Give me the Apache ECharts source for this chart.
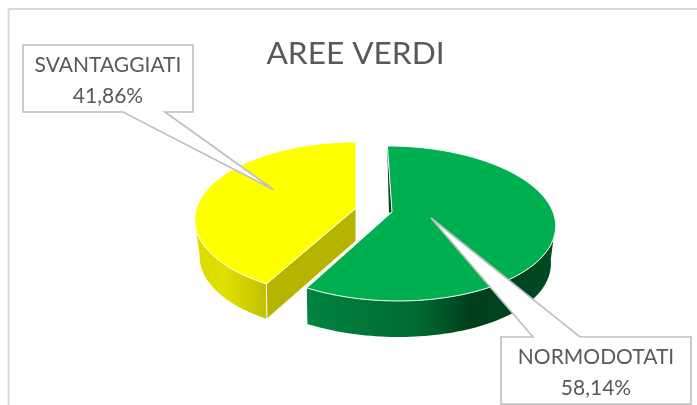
<!DOCTYPE html>
<html><head><meta charset="utf-8">
<style>html,body{margin:0;padding:0;background:#fff}#c{width:697px;height:405px}</style>
<script src="https://cdn.jsdelivr.net/npm/echarts@6/dist/echarts.min.js"></script>
</head><body><div id="c"></div>
<script>
const titleText = 'AREE VERDI';
const categories = ['NORMODOTATI', 'SVANTAGGIATI'];
const shareValues = [58.14, 41.86];
const sliceColors = ['#00b050', '#ffff00'];

const FONT = 'Lato, "Open Sans", sans-serif';
const TEXT = '#595959', EDGE = '#bfbfbf';
// layout of each exploded slice: apex, radii, perspective, wall depth
const sliceLayout = [
  {cx: 392, cy: 212, a: 161, b: 75.8, k: 0.148, shear: 0.07, depth: 36, innerDepth: 36,
   wall: [[0,'#00843f'],[0.45,'#006a31'],[0.66,'#003f1d'],[1,'#004a22']], inner: '#00431f', sliver: true},
  {cx: 356, cy: 208, a: 159.5, b: 75.8, k: 0.148, shear: 0, depth: 35, innerDepth: 33,
   wall: [[0,'#dcdc00'],[0.45,'#dfdf00'],[1,'#c0c000']], inner: '#b5b500', sliver: false}
];
const calloutLayout = [
  {box: [501, 337, 190, 67], base: [533, 580], tip: [431, 218]},
  {box: [23, 45, 170, 67], base: [123, 165], tip: [274, 190]}
];

const rad = d => d * Math.PI / 180;
function rim(L, deg) {
  const u = Math.sin(rad(deg)), v = -Math.cos(rad(deg)), w = 1 - L.k * v;
  const y = L.b * v / w;
  return [L.cx + L.a * u / w + L.shear * y, L.cy + y];
}
function base(L, deg) {
  const u = Math.sin(rad(deg)), p = rim(L, deg);
  return [p[0] - Math.sign(u) * 5 * Math.pow(Math.abs(u), 3), p[1] + L.depth];
}
function arc(fn, L, from, to) {
  const n = Math.max(2, Math.ceil(Math.abs(to - from) / 1.5)), out = [];
  for (let i = 0; i <= n; i++) out.push(fn(L, from + (to - from) * i / n));
  return out;
}
function angles(i) {
  const total = shareValues.reduce((s, x) => s + x, 0);
  let acc = 0;
  for (let j = 0; j < i; j++) acc += shareValues[j];
  return [acc / total * 360, (acc + shareValues[i]) / total * 360];
}
const EXT = 98.5; // silhouette angle of the ellipse
function renderSlice(params, api) {
  const i = params.dataIndex, L = sliceLayout[i], ang = angles(i);
  const start = ang[0], end = ang[1], kids = [];
  const apex = [L.cx, L.cy], apexB = [L.cx, L.cy + L.innerDepth];
  const from = Math.max(start, i === 0 ? EXT : start);
  const to = Math.min(end, i === 0 ? end : 360 - EXT);
  const r0 = arc(rim, L, from, to), b0 = arc(base, L, from, to).reverse();
  kids.push({type: 'polygon', shape: {points: r0.concat(b0)},
    style: {fill: new echarts.graphic.LinearGradient(0, 0, 1, 0,
      L.wall.map(s => ({offset: s[0], color: s[1]}))), stroke: null}});
  if (!L.sliver) {
    const f = rim(L, start), fb = base(L, start);
    kids.push({type: 'polygon', shape: {points: [apex, f, fb, apexB]},
      style: {fill: L.inner, stroke: '#ffffff', lineWidth: 1}});
  } else {
    const t = rim(L, start);
    kids.push({type: 'polygon', shape: {points: [[t[0], t[1] + 8], [L.cx - 3, L.cy + 1], apex, t]},
      style: {fill: L.inner, stroke: null}});
  }
  kids.push({type: 'polygon', shape: {points: [apex].concat(arc(rim, L, start, end))},
    style: {fill: api.visual('color'), stroke: '#ffffff', lineWidth: 1}});
  return {type: 'group', children: kids};
}
function renderCallout(params, api) {
  const i = params.dataIndex, C = calloutLayout[i], b = C.box;
  const above = C.tip[1] < b[1];
  const y = above ? b[1] : b[1] + b[3];
  const pts = above
    ? [[b[0], b[1]], [C.base[0], y], C.tip, [C.base[1], y], [b[0] + b[2], b[1]], [b[0] + b[2], b[1] + b[3]], [b[0], b[1] + b[3]]]
    : [[b[0], b[1]], [b[0] + b[2], b[1]], [b[0] + b[2], y], [C.base[1], y], C.tip, [C.base[0], y], [b[0], y]];
  const pct = shareValues[i].toFixed(2).replace('.', ',') + '%';
  return {type: 'group', children: [
    {type: 'polygon', shape: {points: pts}, style: {fill: '#ffffff', stroke: EDGE, lineWidth: 1.6}},
    {type: 'text', style: {x: b[0] + b[2] / 2, y: b[1] + 20.5, text: categories[i], fill: TEXT,
      font: '21px ' + FONT, align: 'center', verticalAlign: 'middle'}},
    {type: 'text', style: {x: b[0] + b[2] / 2, y: b[1] + 51.5, text: pct, fill: TEXT,
      font: '21px ' + FONT, align: 'center', verticalAlign: 'middle'}}
  ]};
}
const chart = echarts.init(document.getElementById('c'), null, {renderer: 'canvas'});
const sliceData = categories.map((n, i) => ({name: n, value: shareValues[i], itemStyle: {color: sliceColors[i]}}));
chart.setOption({
  animation: false,
  backgroundColor: '#ffffff',
  title: {text: titleText, left: 350.5, top: 33, textAlign: 'center',
    textStyle: {color: TEXT, fontFamily: FONT, fontWeight: 'normal', fontSize: 31.6}},
  graphic: [
    {type: 'line', shape: {x1: 8.5, y1: 9, x2: 697, y2: 9}, style: {stroke: '#d9d9d9', lineWidth: 2}},
    {type: 'line', shape: {x1: 8.5, y1: 9, x2: 8.5, y2: 405}, style: {stroke: '#d9d9d9', lineWidth: 2}}
  ],
  series: [
    {type: 'custom', name: 'slices', coordinateSystem: 'none', renderItem: renderSlice, data: sliceData, z: 2, clip: false},
    {type: 'custom', name: 'callouts', coordinateSystem: 'none', renderItem: renderCallout, data: sliceData, z: 3, clip: false}
  ]
});
</script></body></html>
